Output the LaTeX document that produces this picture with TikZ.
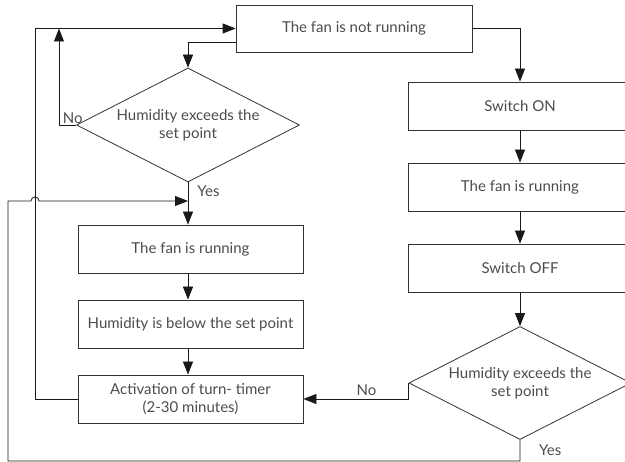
\documentclass[tikz,border=0pt]{standalone}
\usepackage{fontspec}
\setmainfont{Lato}
\usetikzlibrary{shapes.geometric,arrows.meta,positioning}

\begin{document}
\begin{tikzpicture}[x=1pt,y=-1pt,font=\fontsize{15}{18}\selectfont]
  \tikzset{ blk/.style={draw=black!80,thick,text=black!70,minimum width=225pt,minimum height=48pt,inner sep=0pt},
    dec/.style={diamond,aspect=2,draw=black!80,thick,text=black!70,align=center,minimum width=223pt,minimum height=114pt,inner sep=0pt},
    arr/.style={-{Triangle[length=13pt,width=10pt]},black!90,thick},
    lbl/.style={text=black!70,inner sep=1pt},
  }
  \useasboundingbox (0,0) rectangle (625,462);
  \clip (0,0) rectangle (625,462);

  \node[blk,minimum width=236pt,minimum height=47pt] (notrun) at (354, 28.5) {The fan is not running};
  \node[dec] (hum1) at (188, 125) {Humidity exceeds the\\set point};
  \node[blk] (fanon) at (190.5, 249) {The fan is running};
  \node[blk] (below) at (190.5, 324) {Humidity is below the set point};
  \node[blk,align=center] (timer) at (190.5, 399) {Activation of turn- timer\\(2-30 minutes)};

  \node[blk,minimum width=224pt] (swon) at (520, 106) {Switch ON};
  \node[blk,minimum width=224pt] (fanon2) at (520, 187) {The fan is running};
  \node[blk,minimum width=224pt] (swoff) at (520, 268) {Switch OFF};
  \node[dec,minimum width=222pt,minimum height=113pt] (hum2) at (520, 383) {Humidity exceeds the\\set point};

  \coordinate (noend) at (59, 28.5);
  \coordinate (yesin) at (188, 201);

  % the connection between the blocks
  \draw[arr] (notrun.east) -| (swon.north);
  \draw[arr] ([yshift=10pt]notrun.south west) -| (hum1.north);
  \draw[arr] (hum1.west) -| (noend) node [pos=0.1, above, lbl] {No};
  \draw[arr] (hum1.south) -- (fanon.north -| hum1.south) node [pos=0.2, right, lbl, xshift=8pt] {Yes};
  \draw[arr] (fanon.south -| hum1.south) -- (below.north -| hum1.south);
  \draw[arr] (below.south -| hum1.south) -- (timer.north -| hum1.south);
  \draw[arr] (timer.west) -| (35, 28.5) -- (notrun.west);

  \draw[arr] (swon) -- (fanon2);
  \draw[arr] (fanon2) -- (swoff);
  \draw[arr] (swoff) -- (hum2);
  \draw[arr] (hum2.west) |- (timer.east) node [pos=0.7, above, lbl, yshift=2pt] {No};
  \draw[arr] (hum2.south) -- (520, 461) -- (8, 461) -- (8, 201) -- (31, 201)
    arc[start angle=180, end angle=0, radius=4pt] -- (yesin);
  \node[lbl, right] at (538, 450) {Yes};
\end{tikzpicture}
\end{document}
